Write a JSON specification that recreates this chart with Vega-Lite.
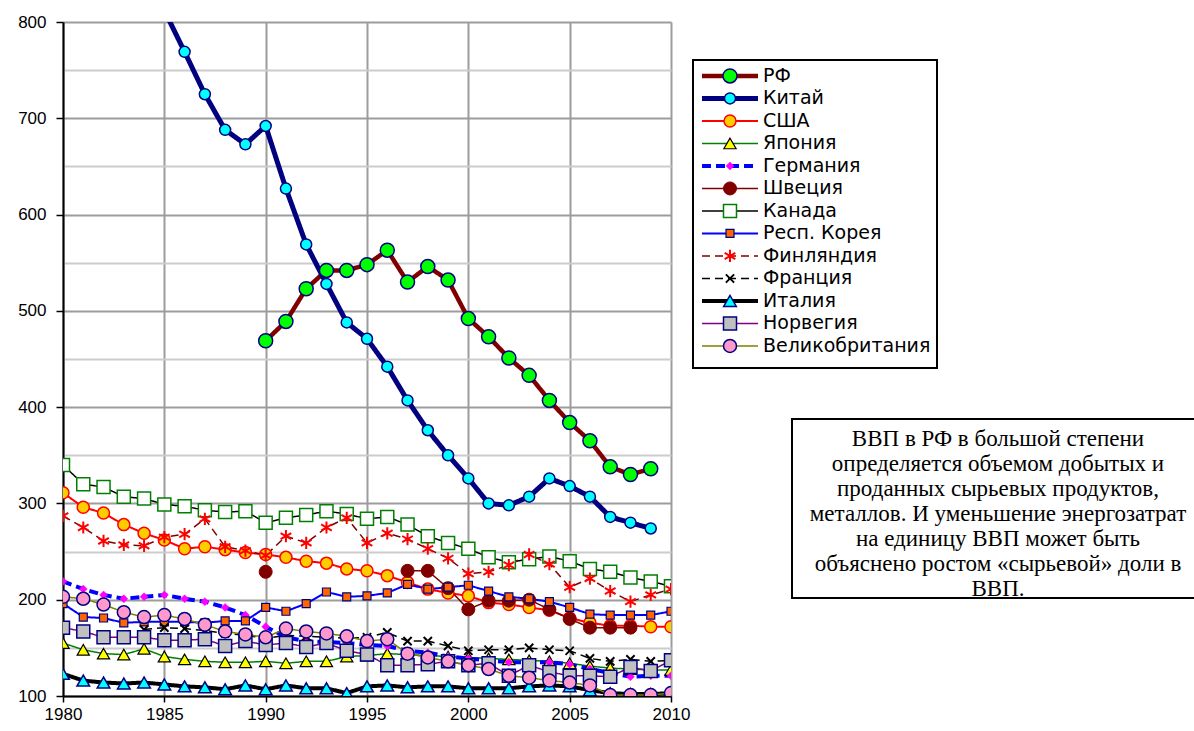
{
  "$schema": "https://vega.github.io/schema/vega-lite/v6.json",
  "padding": {"left": 17, "right": 0, "top": 13, "bottom": 0},
  "background": "white",
  "config": {"font": "Liberation Sans", "view": {"stroke": null}},
  "datasets": {
    "series": [
      {"c":"РФ","x":1990,"v":469},{"c":"РФ","x":1991,"v":489},{"c":"РФ","x":1992,"v":523},{"c":"РФ","x":1993,"v":542},{"c":"РФ","x":1994,"v":542},{"c":"РФ","x":1995,"v":548},{"c":"РФ","x":1996,"v":563},{"c":"РФ","x":1997,"v":530},{"c":"РФ","x":1998,"v":546},{"c":"РФ","x":1999,"v":532},{"c":"РФ","x":2000,"v":492},{"c":"РФ","x":2001,"v":473},{"c":"РФ","x":2002,"v":451},{"c":"РФ","x":2003,"v":433},{"c":"РФ","x":2004,"v":407},{"c":"РФ","x":2005,"v":384},{"c":"РФ","x":2006,"v":365},{"c":"РФ","x":2007,"v":338},{"c":"РФ","x":2008,"v":330},{"c":"РФ","x":2009,"v":336},
      {"c":"Китай","x":1985,"v":812},{"c":"Китай","x":1986,"v":769},{"c":"Китай","x":1987,"v":725},{"c":"Китай","x":1988,"v":688},{"c":"Китай","x":1989,"v":673},{"c":"Китай","x":1990,"v":692},{"c":"Китай","x":1991,"v":627},{"c":"Китай","x":1992,"v":569},{"c":"Китай","x":1993,"v":528},{"c":"Китай","x":1994,"v":488},{"c":"Китай","x":1995,"v":471},{"c":"Китай","x":1996,"v":442},{"c":"Китай","x":1997,"v":407},{"c":"Китай","x":1998,"v":376},{"c":"Китай","x":1999,"v":350},{"c":"Китай","x":2000,"v":326},{"c":"Китай","x":2001,"v":300},{"c":"Китай","x":2002,"v":298},{"c":"Китай","x":2003,"v":307},{"c":"Китай","x":2004,"v":326},{"c":"Китай","x":2005,"v":318},{"c":"Китай","x":2006,"v":307},{"c":"Китай","x":2007,"v":286},{"c":"Китай","x":2008,"v":280},{"c":"Китай","x":2009,"v":274},
      {"c":"США","x":1980,"v":311},{"c":"США","x":1981,"v":296},{"c":"США","x":1982,"v":290},{"c":"США","x":1983,"v":278},{"c":"США","x":1984,"v":269},{"c":"США","x":1985,"v":262},{"c":"США","x":1986,"v":253},{"c":"США","x":1987,"v":255},{"c":"США","x":1988,"v":252},{"c":"США","x":1989,"v":249},{"c":"США","x":1990,"v":247},{"c":"США","x":1991,"v":244},{"c":"США","x":1992,"v":240},{"c":"США","x":1993,"v":238},{"c":"США","x":1994,"v":232},{"c":"США","x":1995,"v":230},{"c":"США","x":1996,"v":225},{"c":"США","x":1997,"v":218},{"c":"США","x":1998,"v":211},{"c":"США","x":1999,"v":207},{"c":"США","x":2000,"v":204},{"c":"США","x":2001,"v":197},{"c":"США","x":2002,"v":195},{"c":"США","x":2003,"v":192},{"c":"США","x":2004,"v":189},{"c":"США","x":2005,"v":181},{"c":"США","x":2006,"v":176},{"c":"США","x":2007,"v":173},{"c":"США","x":2008,"v":173},{"c":"США","x":2009,"v":172},{"c":"США","x":2010,"v":172},
      {"c":"Япония","x":1980,"v":155},{"c":"Япония","x":1981,"v":148},{"c":"Япония","x":1982,"v":144},{"c":"Япония","x":1983,"v":143},{"c":"Япония","x":1984,"v":149},{"c":"Япония","x":1985,"v":141},{"c":"Япония","x":1986,"v":138},{"c":"Япония","x":1987,"v":136},{"c":"Япония","x":1988,"v":135},{"c":"Япония","x":1989,"v":135},{"c":"Япония","x":1990,"v":136},{"c":"Япония","x":1991,"v":134},{"c":"Япония","x":1992,"v":136},{"c":"Япония","x":1993,"v":136},{"c":"Япония","x":1994,"v":141},{"c":"Япония","x":1995,"v":142},{"c":"Япония","x":1996,"v":144},{"c":"Япония","x":1997,"v":143},{"c":"Япония","x":1998,"v":142},{"c":"Япония","x":1999,"v":141},{"c":"Япония","x":2000,"v":140},{"c":"Япония","x":2001,"v":139},{"c":"Япония","x":2002,"v":138},{"c":"Япония","x":2003,"v":137},{"c":"Япония","x":2004,"v":136},{"c":"Япония","x":2005,"v":134},{"c":"Япония","x":2006,"v":131},{"c":"Япония","x":2007,"v":129},{"c":"Япония","x":2008,"v":128},{"c":"Япония","x":2009,"v":127},{"c":"Япония","x":2010,"v":127},
      {"c":"Германия","x":1980,"v":219},{"c":"Германия","x":1981,"v":211},{"c":"Германия","x":1982,"v":205},{"c":"Германия","x":1983,"v":201},{"c":"Германия","x":1984,"v":203},{"c":"Германия","x":1985,"v":205},{"c":"Германия","x":1986,"v":201},{"c":"Германия","x":1987,"v":198},{"c":"Германия","x":1988,"v":192},{"c":"Германия","x":1989,"v":184},{"c":"Германия","x":1990,"v":172},{"c":"Германия","x":1991,"v":161},{"c":"Германия","x":1992,"v":157},{"c":"Германия","x":1993,"v":156},{"c":"Германия","x":1994,"v":155},{"c":"Германия","x":1995,"v":153},{"c":"Германия","x":1996,"v":152},{"c":"Германия","x":1997,"v":147},{"c":"Германия","x":1998,"v":145},{"c":"Германия","x":1999,"v":141},{"c":"Германия","x":2000,"v":139},{"c":"Германия","x":2001,"v":137},{"c":"Германия","x":2002,"v":135},{"c":"Германия","x":2003,"v":135},{"c":"Германия","x":2004,"v":135},{"c":"Германия","x":2005,"v":133},{"c":"Германия","x":2006,"v":128},{"c":"Германия","x":2007,"v":124},{"c":"Германия","x":2008,"v":120},{"c":"Германия","x":2009,"v":121},{"c":"Германия","x":2010,"v":121},
      {"c":"Швеция","x":1990,"v":229},{"c":"Швеция","x":1991,"v":null},{"c":"Швеция","x":1997,"v":230},{"c":"Швеция","x":1998,"v":230},{"c":"Швеция","x":1999,"v":212},{"c":"Швеция","x":2000,"v":190},{"c":"Швеция","x":2001,"v":199},{"c":"Швеция","x":2002,"v":199},{"c":"Швеция","x":2003,"v":200},{"c":"Швеция","x":2004,"v":190},{"c":"Швеция","x":2005,"v":180},{"c":"Швеция","x":2006,"v":171},{"c":"Швеция","x":2007,"v":171},{"c":"Швеция","x":2008,"v":171},
      {"c":"Канада","x":1980,"v":340},{"c":"Канада","x":1981,"v":320},{"c":"Канада","x":1982,"v":317},{"c":"Канада","x":1983,"v":307},{"c":"Канада","x":1984,"v":305},{"c":"Канада","x":1985,"v":299},{"c":"Канада","x":1986,"v":297},{"c":"Канада","x":1987,"v":293},{"c":"Канада","x":1988,"v":291},{"c":"Канада","x":1989,"v":292},{"c":"Канада","x":1990,"v":280},{"c":"Канада","x":1991,"v":285},{"c":"Канада","x":1992,"v":288},{"c":"Канада","x":1993,"v":292},{"c":"Канада","x":1994,"v":289},{"c":"Канада","x":1995,"v":284},{"c":"Канада","x":1996,"v":286},{"c":"Канада","x":1997,"v":278},{"c":"Канада","x":1998,"v":266},{"c":"Канада","x":1999,"v":259},{"c":"Канада","x":2000,"v":253},{"c":"Канада","x":2001,"v":244},{"c":"Канада","x":2002,"v":239},{"c":"Канада","x":2003,"v":242},{"c":"Канада","x":2004,"v":245},{"c":"Канада","x":2005,"v":240},{"c":"Канада","x":2006,"v":232},{"c":"Канада","x":2007,"v":229},{"c":"Канада","x":2008,"v":223},{"c":"Канада","x":2009,"v":219},{"c":"Канада","x":2010,"v":214},
      {"c":"Респ. Корея","x":1980,"v":196},{"c":"Респ. Корея","x":1981,"v":182},{"c":"Респ. Корея","x":1982,"v":181},{"c":"Респ. Корея","x":1983,"v":176},{"c":"Респ. Корея","x":1984,"v":177},{"c":"Респ. Корея","x":1985,"v":177},{"c":"Респ. Корея","x":1986,"v":177},{"c":"Респ. Корея","x":1987,"v":176},{"c":"Респ. Корея","x":1988,"v":178},{"c":"Респ. Корея","x":1989,"v":178},{"c":"Респ. Корея","x":1990,"v":192},{"c":"Респ. Корея","x":1991,"v":188},{"c":"Респ. Корея","x":1992,"v":196},{"c":"Респ. Корея","x":1993,"v":208},{"c":"Респ. Корея","x":1994,"v":203},{"c":"Респ. Корея","x":1995,"v":204},{"c":"Респ. Корея","x":1996,"v":207},{"c":"Респ. Корея","x":1997,"v":216},{"c":"Респ. Корея","x":1998,"v":211},{"c":"Респ. Корея","x":1999,"v":213},{"c":"Респ. Корея","x":2000,"v":215},{"c":"Респ. Корея","x":2001,"v":209},{"c":"Респ. Корея","x":2002,"v":203},{"c":"Респ. Корея","x":2003,"v":201},{"c":"Респ. Корея","x":2004,"v":198},{"c":"Респ. Корея","x":2005,"v":192},{"c":"Респ. Корея","x":2006,"v":185},{"c":"Респ. Корея","x":2007,"v":184},{"c":"Респ. Корея","x":2008,"v":184},{"c":"Респ. Корея","x":2009,"v":184},{"c":"Респ. Корея","x":2010,"v":188},
      {"c":"Финляндия","x":1980,"v":287},{"c":"Финляндия","x":1981,"v":275},{"c":"Финляндия","x":1982,"v":261},{"c":"Финляндия","x":1983,"v":257},{"c":"Финляндия","x":1984,"v":256},{"c":"Финляндия","x":1985,"v":265},{"c":"Финляндия","x":1986,"v":268},{"c":"Финляндия","x":1987,"v":284},{"c":"Финляндия","x":1988,"v":255},{"c":"Финляндия","x":1989,"v":251},{"c":"Финляндия","x":1990,"v":246},{"c":"Финляндия","x":1991,"v":266},{"c":"Финляндия","x":1992,"v":259},{"c":"Финляндия","x":1993,"v":275},{"c":"Финляндия","x":1994,"v":285},{"c":"Финляндия","x":1995,"v":259},{"c":"Финляндия","x":1996,"v":269},{"c":"Финляндия","x":1997,"v":263},{"c":"Финляндия","x":1998,"v":253},{"c":"Финляндия","x":1999,"v":243},{"c":"Финляндия","x":2000,"v":227},{"c":"Финляндия","x":2001,"v":229},{"c":"Финляндия","x":2002,"v":236},{"c":"Финляндия","x":2003,"v":247},{"c":"Финляндия","x":2004,"v":237},{"c":"Финляндия","x":2005,"v":213},{"c":"Финляндия","x":2006,"v":222},{"c":"Финляндия","x":2007,"v":209},{"c":"Финляндия","x":2008,"v":198},{"c":"Финляндия","x":2009,"v":205},{"c":"Финляндия","x":2010,"v":211},
      {"c":"Франция","x":1984,"v":169},{"c":"Франция","x":1985,"v":171},{"c":"Франция","x":1986,"v":170},{"c":"Франция","x":1987,"v":168},{"c":"Франция","x":1988,"v":165},{"c":"Франция","x":1989,"v":163},{"c":"Франция","x":1990,"v":160},{"c":"Франция","x":1991,"v":163},{"c":"Франция","x":1992,"v":162},{"c":"Франция","x":1993,"v":161},{"c":"Франция","x":1994,"v":160},{"c":"Франция","x":1995,"v":161},{"c":"Франция","x":1996,"v":166},{"c":"Франция","x":1997,"v":157},{"c":"Франция","x":1998,"v":157},{"c":"Франция","x":1999,"v":152},{"c":"Франция","x":2000,"v":147},{"c":"Франция","x":2001,"v":148},{"c":"Франция","x":2002,"v":148},{"c":"Франция","x":2003,"v":150},{"c":"Франция","x":2004,"v":148},{"c":"Франция","x":2005,"v":147},{"c":"Франция","x":2006,"v":139},{"c":"Франция","x":2007,"v":136},{"c":"Франция","x":2008,"v":138},{"c":"Франция","x":2009,"v":136},{"c":"Франция","x":2010,"v":137},
      {"c":"Италия","x":1980,"v":123},{"c":"Италия","x":1981,"v":116},{"c":"Италия","x":1982,"v":114},{"c":"Италия","x":1983,"v":113},{"c":"Италия","x":1984,"v":114},{"c":"Италия","x":1985,"v":112},{"c":"Италия","x":1986,"v":110},{"c":"Италия","x":1987,"v":109},{"c":"Италия","x":1988,"v":107},{"c":"Италия","x":1989,"v":111},{"c":"Италия","x":1990,"v":107},{"c":"Италия","x":1991,"v":111},{"c":"Италия","x":1992,"v":108},{"c":"Италия","x":1993,"v":108},{"c":"Италия","x":1994,"v":103},{"c":"Италия","x":1995,"v":110},{"c":"Италия","x":1996,"v":111},{"c":"Италия","x":1997,"v":109},{"c":"Италия","x":1998,"v":110},{"c":"Италия","x":1999,"v":110},{"c":"Италия","x":2000,"v":108},{"c":"Италия","x":2001,"v":108},{"c":"Италия","x":2002,"v":108},{"c":"Италия","x":2003,"v":110},{"c":"Италия","x":2004,"v":111},{"c":"Италия","x":2005,"v":110},{"c":"Италия","x":2006,"v":106},{"c":"Италия","x":2007,"v":103},{"c":"Италия","x":2008,"v":102},{"c":"Италия","x":2009,"v":102},{"c":"Италия","x":2010,"v":103},
      {"c":"Норвегия","x":1980,"v":171},{"c":"Норвегия","x":1981,"v":167},{"c":"Норвегия","x":1982,"v":161},{"c":"Норвегия","x":1983,"v":161},{"c":"Норвегия","x":1984,"v":161},{"c":"Норвегия","x":1985,"v":158},{"c":"Норвегия","x":1986,"v":158},{"c":"Норвегия","x":1987,"v":159},{"c":"Норвегия","x":1988,"v":152},{"c":"Норвегия","x":1989,"v":157},{"c":"Норвегия","x":1990,"v":153},{"c":"Норвегия","x":1991,"v":155},{"c":"Норвегия","x":1992,"v":151},{"c":"Норвегия","x":1993,"v":155},{"c":"Норвегия","x":1994,"v":147},{"c":"Норвегия","x":1995,"v":143},{"c":"Норвегия","x":1996,"v":132},{"c":"Норвегия","x":1997,"v":132},{"c":"Норвегия","x":1998,"v":133},{"c":"Норвегия","x":1999,"v":136},{"c":"Норвегия","x":2000,"v":132},{"c":"Норвегия","x":2001,"v":134},{"c":"Норвегия","x":2002,"v":121},{"c":"Норвегия","x":2003,"v":132},{"c":"Норвегия","x":2004,"v":125},{"c":"Норвегия","x":2005,"v":121},{"c":"Норвегия","x":2006,"v":121},{"c":"Норвегия","x":2007,"v":120},{"c":"Норвегия","x":2008,"v":130},{"c":"Норвегия","x":2009,"v":126},{"c":"Норвегия","x":2010,"v":137},
      {"c":"Великобритания","x":1980,"v":203},{"c":"Великобритания","x":1981,"v":201},{"c":"Великобритания","x":1982,"v":195},{"c":"Великобритания","x":1983,"v":187},{"c":"Великобритания","x":1984,"v":182},{"c":"Великобритания","x":1985,"v":184},{"c":"Великобритания","x":1986,"v":180},{"c":"Великобритания","x":1987,"v":174},{"c":"Великобритания","x":1988,"v":167},{"c":"Великобритания","x":1989,"v":164},{"c":"Великобритания","x":1990,"v":161},{"c":"Великобритания","x":1991,"v":170},{"c":"Великобритания","x":1992,"v":167},{"c":"Великобритания","x":1993,"v":165},{"c":"Великобритания","x":1994,"v":162},{"c":"Великобритания","x":1995,"v":157},{"c":"Великобритания","x":1996,"v":159},{"c":"Великобритания","x":1997,"v":144},{"c":"Великобритания","x":1998,"v":140},{"c":"Великобритания","x":1999,"v":136},{"c":"Великобритания","x":2000,"v":132},{"c":"Великобритания","x":2001,"v":128},{"c":"Великобритания","x":2002,"v":121},{"c":"Великобритания","x":2003,"v":119},{"c":"Великобритания","x":2004,"v":116},{"c":"Великобритания","x":2005,"v":114},{"c":"Великобритания","x":2006,"v":111},{"c":"Великобритания","x":2007,"v":101},{"c":"Великобритания","x":2008,"v":101},{"c":"Великобритания","x":2009,"v":101},{"c":"Великобритания","x":2010,"v":103}
    ],
    "names": [
      {"c":"РФ"},{"c":"Китай"},{"c":"США"},{"c":"Япония"},{"c":"Германия"},{"c":"Швеция"},{"c":"Канада"},{"c":"Респ. Корея"},{"c":"Финляндия"},{"c":"Франция"},{"c":"Италия"},{"c":"Норвегия"},{"c":"Великобритания"}
    ],
    "note": [
      {"t": "ВВП в РФ в большой степени\u00a0\u00a0\u00a0\u00a0\u00a0\u00a0\u00a0\u00a0\u00a0\u00a0\u00a0\u00a0\u00a0\u00a0\u00a0\u00a0\nопределяется объемом добытых и\nпроданных сырьевых продуктов,\nметаллов. И уменьшение энергозатрат\nна единицу ВВП может быть\nобъяснено ростом «сырьевой» доли в\nВВП.\u00a0\u00a0\u00a0\u00a0\u00a0\u00a0"}
    ]
  },
  "resolve": {"scale": {"x": "independent", "y": "independent"}},
  "spacing": 2,
  "hconcat": [
    {
      "width": 608,
      "height": 674,
      "data": {"name": "series"},
      "resolve": {"scale": {"stroke": "independent", "strokeWidth": "independent"}},
      "encoding": {
        "x": {"field": "x", "type": "quantitative",
          "scale": {"domain": [1980, 2010], "nice": false, "zero": false},
          "axis": {"title": null, "values": [1980,1985,1990,1995,2000,2005,2010], "format": "d",
            "grid": true, "gridColor": "#9c9c9c", "gridWidth": 2,
            "domainColor": "black", "domainWidth": 2, "tickColor": "black", "tickWidth": 1.5, "tickSize": 6,
            "labelFont": "Liberation Sans", "labelFontSize": 17, "labelColor": "black", "labelPadding": 4, "labelFlush": false}},
        "y": {"field": "v", "type": "quantitative",
          "scale": {"domain": [100, 800], "nice": false, "zero": false},
          "axis": {"title": null, "values": [100,150,200,250,300,350,400,450,500,550,600,650,700,750,800],
            "labelExpr": "datum.value % 100 === 0 ? datum.label : ''",
            "grid": true, "gridWidth": 2,
            "gridColor": {"condition": {"test": "datum.value % 100 !== 0", "value": "#cccccc"}, "value": "#9c9c9c"},
            "tickOpacity": {"condition": {"test": "datum.value % 100 !== 0", "value": 0}, "value": 1},
            "domainColor": "black", "domainWidth": 2, "tickColor": "black", "tickWidth": 1.5, "tickSize": 7,
            "labelFont": "Liberation Sans", "labelFontSize": 17, "labelColor": "black", "labelPadding": 10, "labelFlush": false}}
      },
      "layer": [
        {
          "mark": {"type": "line", "clip": true, "invalid": "break-paths-show-domains"},
          "encoding": {
            "stroke": {"field": "c", "type": "nominal", "legend": null,
              "scale": {"domain": ["РФ","Китай","США","Япония","Германия","Швеция","Канада","Респ. Корея","Финляндия","Франция","Италия","Норвегия","Великобритания"],
                "range": ["#800000","#000080","#ff0000","#008000","#0000ff","#800000","#000000","#0000ff","#800000","#000000","#000000","#800080","#808000"]}},
            "strokeWidth": {"field": "c", "type": "nominal", "legend": null,
              "scale": {"type": "ordinal", "domain": ["РФ","Китай","США","Япония","Германия","Швеция","Канада","Респ. Корея","Финляндия","Франция","Италия","Норвегия","Великобритания"],
                "range": [4.5,5,2,1.5,4,1.5,1.5,2,1.5,1.5,4,1.5,1.5]}},
            "strokeDash": {"field": "c", "type": "nominal", "legend": null,
              "scale": {"domain": ["РФ","Китай","США","Япония","Германия","Швеция","Канада","Респ. Корея","Финляндия","Франция","Италия","Норвегия","Великобритания"],
                "range": [[1,0],[1,0],[1,0],[1,0],[9,5],[1,0],[1,0],[1,0],[8,5],[8,5],[1,0],[1,0],[1,0]]}}
          }
        },
        {
          "mark": {"type": "point", "filled": true, "clip": true, "opacity": 1},
          "encoding": {
            "shape": {"field": "c", "type": "nominal", "legend": null,
              "scale": {"domain": ["РФ","Китай","США","Япония","Германия","Швеция","Канада","Респ. Корея","Финляндия","Франция","Италия","Норвегия","Великобритания"],
                "range": ["circle","circle","circle","triangle-up","diamond","circle","square","square","M0,-1L0,1M-0.87,-0.5L0.87,0.5M-0.87,0.5L0.87,-0.5","M-0.75,-0.75L0.75,0.75M-0.75,0.75L0.75,-0.75","triangle-up","square","circle"]}},
            "fill": {"field": "c", "type": "nominal", "legend": null,
              "scale": {"domain": ["РФ","Китай","США","Япония","Германия","Швеция","Канада","Респ. Корея","Финляндия","Франция","Италия","Норвегия","Великобритания"],
                "range": ["#00ff00","#00ffff","#ffcc00","#ffff00","#ff00ff","#800000","#ffffff","#ff6600","transparent","transparent","#00ffff","#c0c0c0","#ff99cc"]}},
            "stroke": {"field": "c", "type": "nominal", "legend": null,
              "scale": {"domain": ["РФ","Китай","США","Япония","Германия","Швеция","Канада","Респ. Корея","Финляндия","Франция","Италия","Норвегия","Великобритания"],
                "range": ["#000080","#000080","#ff0000","#000000","#ff00ff","#800000","#008000","#000080","#ff0000","#000000","#000080","#000080","#000080"]}},
            "strokeWidth": {"field": "c", "type": "nominal", "legend": null,
              "scale": {"type": "ordinal", "domain": ["РФ","Китай","США","Япония","Германия","Швеция","Канада","Респ. Корея","Финляндия","Франция","Италия","Норвегия","Великобритания"],
                "range": [1.5,1.5,1.5,1.2,0.5,1,1.5,1.2,2,2,1.5,1.5,1.5]}},
            "size": {"field": "c", "type": "nominal", "legend": null,
              "scale": {"type": "ordinal", "domain": ["РФ","Китай","США","Япония","Германия","Швеция","Канада","Респ. Корея","Финляндия","Франция","Италия","Норвегия","Великобритания"],
                "range": [196,121,144,150,64,169,169,64,150,121,160,169,169]}}
          }
        }
      ]
    },
    {
      "resolve": {"scale": {"x": "independent", "y": "independent"}},
      "spacing": 0,
      "vconcat": [
        {"width": 10, "height": 37, "data": {"values": [{}]}, "mark": {"type": "point", "opacity": 0}},
        {
          "width": 244,
          "height": 308,
          "data": {"name": "names"},
          "view": {"stroke": "black", "strokeWidth": 2, "fill": "white"},
          "resolve": {"scale": {"stroke": "independent", "strokeWidth": "independent"}},
          "encoding": {
            "y": {"field": "c", "type": "nominal", "sort": null, "axis": null,
              "scale": {"type": "point", "padding": 0.844, "align": 0.42}}
          },
          "layer": [
            {
              "mark": {"type": "rule"},
              "encoding": {
                "x": {"datum": 9, "type": "quantitative", "scale": {"domain": [0, 244], "nice": false, "zero": false}, "axis": null},
                "x2": {"datum": 65},
                "stroke": {"field": "c", "type": "nominal", "legend": null,
                  "scale": {"domain": ["РФ","Китай","США","Япония","Германия","Швеция","Канада","Респ. Корея","Финляндия","Франция","Италия","Норвегия","Великобритания"],
                    "range": ["#800000","#000080","#ff0000","#008000","#0000ff","#800000","#000000","#0000ff","#800000","#000000","#000000","#800080","#808000"]}},
                "strokeWidth": {"field": "c", "type": "nominal", "legend": null,
                  "scale": {"type": "ordinal", "domain": ["РФ","Китай","США","Япония","Германия","Швеция","Канада","Респ. Корея","Финляндия","Франция","Италия","Норвегия","Великобритания"],
                    "range": [4.5,5,2,1.5,4,1.5,1.5,2,1.5,1.5,4,1.5,1.5]}},
                "strokeDash": {"field": "c", "type": "nominal", "legend": null,
                  "scale": {"domain": ["РФ","Китай","США","Япония","Германия","Швеция","Канада","Респ. Корея","Финляндия","Франция","Италия","Норвегия","Великобритания"],
                    "range": [[1,0],[1,0],[1,0],[1,0],[8,5],[1,0],[1,0],[1,0],[20,16],[20,16],[1,0],[1,0],[1,0]]}}
              }
            },
            {
              "mark": {"type": "point", "filled": true, "opacity": 1},
              "encoding": {
                "x": {"datum": 37, "type": "quantitative"},
                "shape": {"field": "c", "type": "nominal", "legend": null,
                  "scale": {"domain": ["РФ","Китай","США","Япония","Германия","Швеция","Канада","Респ. Корея","Финляндия","Франция","Италия","Норвегия","Великобритания"],
                    "range": ["circle","circle","circle","triangle-up","diamond","circle","square","square","M0,-1L0,1M-0.87,-0.5L0.87,0.5M-0.87,0.5L0.87,-0.5","M-0.75,-0.75L0.75,0.75M-0.75,0.75L0.75,-0.75","triangle-up","square","circle"]}},
                "fill": {"field": "c", "type": "nominal", "legend": null,
                  "scale": {"domain": ["РФ","Китай","США","Япония","Германия","Швеция","Канада","Респ. Корея","Финляндия","Франция","Италия","Норвегия","Великобритания"],
                    "range": ["#00ff00","#00ffff","#ffcc00","#ffff00","#ff00ff","#800000","#ffffff","#ff6600","#ffffff","#ffffff","#00ffff","#c0c0c0","#ff99cc"]}},
                "stroke": {"field": "c", "type": "nominal", "legend": null,
                  "scale": {"domain": ["РФ","Китай","США","Япония","Германия","Швеция","Канада","Респ. Корея","Финляндия","Франция","Италия","Норвегия","Великобритания"],
                    "range": ["#000080","#000080","#ff0000","#000000","#ff00ff","#800000","#008000","#000080","#ff0000","#000000","#000080","#000080","#000080"]}},
                "strokeWidth": {"field": "c", "type": "nominal", "legend": null,
                  "scale": {"type": "ordinal", "domain": ["РФ","Китай","США","Япония","Германия","Швеция","Канада","Респ. Корея","Финляндия","Франция","Италия","Норвегия","Великобритания"],
                    "range": [1.5,1.5,1.5,1.2,0.5,1,1.5,1.2,2,2,1.5,1.5,1.5]}},
                "size": {"field": "c", "type": "nominal", "legend": null,
                  "scale": {"type": "ordinal", "domain": ["РФ","Китай","США","Япония","Германия","Швеция","Канада","Респ. Корея","Финляндия","Франция","Италия","Норвегия","Великобритания"],
                    "range": [196,121,144,150,64,169,169,64,150,121,160,169,169]}}
              }
            },
            {
              "mark": {"type": "text", "align": "left", "baseline": "middle", "font": "DejaVu Sans", "fontSize": 19, "color": "black"},
              "encoding": {
                "x": {"datum": 70, "type": "quantitative"},
                "text": {"field": "c"}
              }
            }
          ]
        },
        {"width": 10, "height": 49, "data": {"values": [{}]}, "mark": {"type": "point", "opacity": 0}},
        {
          "spacing": 0,
          "resolve": {"scale": {"x": "independent", "y": "independent"}},
          "hconcat": [
            {"width": 98, "height": 179, "data": {"values": [{}]}, "mark": {"type": "point", "opacity": 0}},
            {
              "width": 412,
              "height": 179,
              "view": {"stroke": "black", "strokeWidth": 2, "fill": "white"},
              "data": {"name": "note"},
              "mark": {"type": "text", "font": "Liberation Serif", "fontSize": 23, "lineHeight": 25, "lineBreak": "\n", "align": "center", "baseline": "middle", "color": "black", "dy": -70},
              "encoding": {
                "x": {"datum": 0.5, "type": "quantitative", "scale": {"domain": [0, 1], "nice": false, "zero": false}, "axis": null},
                "y": {"datum": 0.5, "type": "quantitative", "scale": {"domain": [0, 1], "nice": false, "zero": false}, "axis": null},
                "text": {"field": "t"}
              }
            }
          ]
        }
      ]
    }
  ]
}
